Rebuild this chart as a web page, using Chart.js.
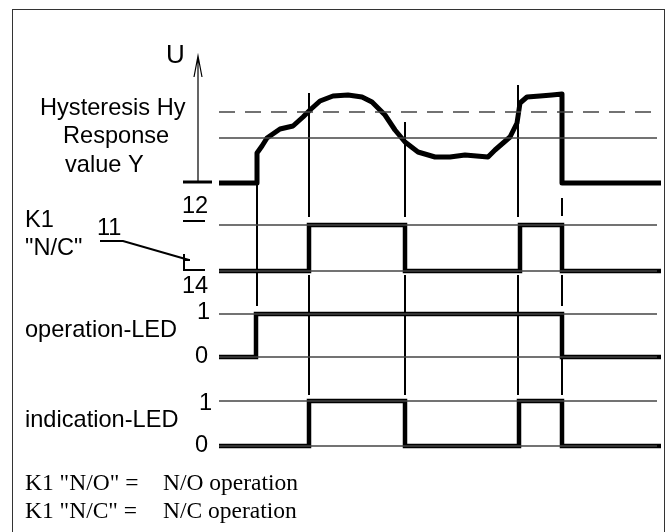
<!DOCTYPE html>
<html lang="en">
<head>
    <meta charset="UTF-8">
    <title>Hysteresis timing diagram</title>
    <script src="https://cdn.jsdelivr.net/npm/chart.js"></script>
    <style>
        body {
            margin: 0;
            padding: 0;
            background: #fff;
            overflow: hidden;
        }
        .wrap {
            position: relative;
            width: 669px;
            height: 532px;
        }
        .frame {
            position: absolute;
            left: 12px;
            top: 9px;
            width: 651px;
            height: 600px;
            border: 1.5px solid #333;
        }
        canvas {
            position: absolute;
            left: 0;
            top: 0;
        }
    </style>
</head>
<body>
    <div class="wrap">
        <div class="frame"></div>
        <canvas id="diagram" width="669" height="532"></canvas>
    </div>
    <script>
        // time axis runs left to right, level axis top to bottom (same units as the sheet)
        const tStart = 219;
        const tEnd = 661;
        const refEnd = 657;

        // measured voltage U
        const uTime  = [219, 257, 257, 262, 267, 280, 293, 303, 310, 320, 333, 348, 362, 372, 385, 395, 405, 418, 435, 450, 465, 488, 495, 510, 517, 520, 527, 540, 552, 562, 562, 661];
        const uLevel = [183, 183, 153, 146, 138, 129, 126, 117, 110, 101,  96,  95,  97, 102, 115, 130, 142, 152, 157, 157, 155, 157, 150, 137, 123, 103,  97,  96,  95,  94, 183, 183];

        // threshold levels
        const hysteresisLevel = 112;
        const responseLevel = 138;

        // switching instants and states per interval
        const k1Edges  = [219, 309, 405, 520, 562, 661];
        const k1State  = [0, 1, 0, 1, 0];
        const opEdges  = [219, 256, 562, 661];
        const opState  = [0, 1, 0];
        const indEdges = [219, 309, 405, 519, 562, 661];
        const indState = [0, 1, 0, 1, 0];

        // rows: level of state 0 and state 1
        const k1Row  = { low: 271, high: 225 };
        const opRow  = { low: 357, high: 314 };
        const indRow = { low: 446, high: 401 };

        // guide lines between the rows
        const guideX = [257, 309, 405, 518, 562];
        const guideSpans = [
            [[185, 306]],
            [[93, 217], [275, 395]],
            [[122, 217], [275, 395]],
            [[85, 217], [275, 395]],
            [[198, 216], [275, 306], [357, 395]]
        ];

        function stepData(edges, states, row) {
            const pts = [];
            for (let i = 0; i < states.length; i++) {
                pts.push({ x: edges[i], y: states[i] ? row.high : row.low });
            }
            const last = states[states.length - 1];
            pts.push({ x: edges[edges.length - 1], y: last ? row.high : row.low });
            return pts;
        }

        function hLine(y, x0, x1) {
            return [{ x: x0, y: y }, { x: x1, y: y }];
        }

        function guideData() {
            const pts = [];
            guideX.forEach((gx, i) => {
                guideSpans[i].forEach(s => {
                    pts.push({ x: gx, y: s[0] });
                    pts.push({ x: gx, y: s[1] });
                    pts.push({ x: gx, y: null });
                });
            });
            return pts;
        }

        const thin = { borderColor: '#444', borderWidth: 1.3, pointRadius: 0, showLine: true, fill: false };
        const thick = { borderColor: '#000', borderWidth: 4.5, pointRadius: 0, showLine: true, fill: false, borderJoinStyle: 'miter' };
        const black = { borderColor: '#000', pointRadius: 0, showLine: true, fill: false };

        const datasets = [
            // reference lines
            Object.assign({ data: hLine(hysteresisLevel, tStart, refEnd), borderDash: [16, 10] }, thin),
            Object.assign({ data: hLine(responseLevel, tStart, refEnd) }, thin),
            Object.assign({ data: hLine(k1Row.high, tStart, refEnd) }, thin),
            Object.assign({ data: hLine(k1Row.low, tStart, refEnd) }, thin),
            Object.assign({ data: hLine(opRow.high, tStart, refEnd) }, thin),
            Object.assign({ data: hLine(opRow.low, tStart, refEnd) }, thin),
            Object.assign({ data: hLine(indRow.high, tStart, refEnd) }, thin),
            Object.assign({ data: hLine(indRow.low, tStart, refEnd) }, thin),
            // guide lines
            Object.assign({ data: guideData(), borderWidth: 2, spanGaps: false }, black),
            // U axis arrow and base tick
            Object.assign({ data: [{ x: 198, y: 182 }, { x: 198, y: 56 }, { x: null, y: null }, { x: 194, y: 77 }, { x: 198, y: 56 }, { x: 202, y: 77 }], borderWidth: 1.2, spanGaps: false }, black),
            Object.assign({ data: hLine(182, 183, 212), borderWidth: 3 }, black),
            // contact symbol 11 / 12 / 14
            Object.assign({ data: hLine(221, 183, 205), borderWidth: 2 }, black),
            Object.assign({ data: [{ x: 100, y: 241 }, { x: 123, y: 241 }, { x: 189, y: 260 }], borderWidth: 2 }, black),
            Object.assign({ data: [{ x: 184, y: 254 }, { x: 184, y: 270 }, { x: 205, y: 270 }, { x: null, y: null }, { x: 183, y: 260 }, { x: 190, y: 260 }], borderWidth: 2, spanGaps: false }, black),
            // signals
            Object.assign({ data: uTime.map((t, i) => ({ x: t, y: uLevel[i] })), borderWidth: 5, borderJoinStyle: 'round' }, black),
            Object.assign({ data: stepData(k1Edges, k1State, k1Row), stepped: 'before' }, thick),
            Object.assign({ data: stepData(opEdges, opState, opRow), stepped: 'before' }, thick),
            Object.assign({ data: stepData(indEdges, indState, indRow), stepped: 'before' }, thick)
        ];

        const sans = '23.6px "Liberation Sans", Arial, sans-serif';
        const serif = '23.5px "Liberation Serif", "Times New Roman", serif';
        const labels = [
            { t: 'U', x: 166, y: 63, f: '26px "Liberation Sans", Arial, sans-serif' },
            { t: 'Hysteresis Hy', x: 40, y: 115, f: sans },
            { t: 'Response', x: 63, y: 143, f: sans },
            { t: 'value Y', x: 65, y: 172, f: sans },
            { t: '12', x: 182, y: 213, f: sans },
            { t: 'K1', x: 25, y: 227, f: sans },
            { t: '11', x: 97, y: 235, f: sans },
            { t: '"N/C"', x: 25, y: 255, f: sans },
            { t: '14', x: 182, y: 293, f: sans },
            { t: '1', x: 197, y: 319, f: sans },
            { t: 'operation-LED', x: 25, y: 337, f: sans },
            { t: '0', x: 195, y: 363, f: sans },
            { t: '1', x: 199, y: 410, f: sans },
            { t: 'indication-LED', x: 25, y: 427, f: sans },
            { t: '0', x: 195, y: 452, f: sans },
            { t: 'K1 "N/O" =', x: 25, y: 490, f: serif },
            { t: 'N/O operation', x: 163, y: 490, f: serif },
            { t: 'K1 "N/C" =', x: 25, y: 518, f: serif },
            { t: 'N/C operation', x: 163, y: 518, f: serif }
        ];

        const textPlugin = {
            id: 'texts',
            afterDraw(chart) {
                const ctx = chart.ctx;
                const xs = chart.scales.x;
                const ys = chart.scales.y;
                ctx.save();
                ctx.fillStyle = '#000';
                ctx.textBaseline = 'alphabetic';
                ctx.textAlign = 'left';
                labels.forEach(l => {
                    ctx.font = l.f;
                    ctx.fillText(l.t, xs.getPixelForValue(l.x), ys.getPixelForValue(l.y));
                });
                ctx.restore();
            }
        };

        new Chart(document.getElementById('diagram').getContext('2d'), {
            type: 'scatter',
            data: { datasets: datasets },
            options: {
                responsive: false,
                animation: false,
                events: [],
                layout: { padding: 0 },
                elements: { point: { radius: 0 }, line: { tension: 0 } },
                plugins: { legend: { display: false }, tooltip: { enabled: false } },
                scales: {
                    x: { type: 'linear', min: 0, max: 669, display: false },
                    y: { type: 'linear', min: 0, max: 532, reverse: true, display: false }
                }
            },
            plugins: [textPlugin]
        });
    </script>
</body>
</html>
